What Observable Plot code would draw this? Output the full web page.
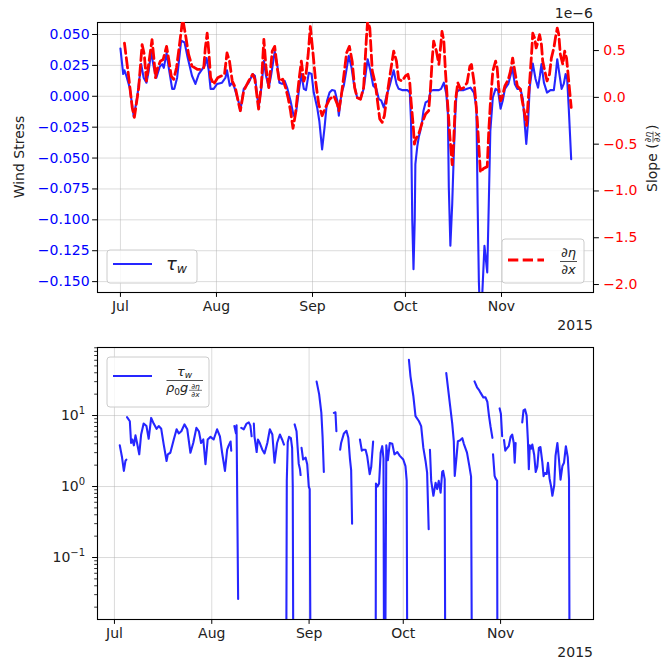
<!DOCTYPE html>
<html>
<head>
<meta charset="utf-8">
<script src="https://cdn.jsdelivr.net/npm/d3@7"></script>
<script src="https://cdn.jsdelivr.net/npm/@observablehq/plot@0.6"></script>
<style>
  body { margin: 0; background: #fff; }
  #fig { position: relative; width: 663px; height: 662px; font-family: "DejaVu Sans", sans-serif; }
  #fig svg { position: absolute; left: 0; top: 0; }
</style>
</head>
<body>
<div id="fig"></div>
<script>
// ---- axis ticks and labels ----
const monthStarts = ["2015-07-01", "2015-08-01", "2015-09-01", "2015-10-01", "2015-11-01"];
const monthLabels = ["Jul", "Aug", "Sep", "Oct", "Nov"];
const yearLabel = "2015";
const tauTicks = [-0.15, -0.125, -0.1, -0.075, -0.05, -0.025, 0, 0.025, 0.05];
const slopeTicks = [-2, -1.5, -1, -0.5, 0, 0.5];
const ratioTicks = [0.1, 1, 10];

// ---- series: [days since 1 Jul 2015, value] ----
// wind stress tau_w
const tauSamples = [
  [0.0,0.0387],[0.9,0.018],[1.3,0.021],[1.9,0.0166],[3.0,0.007],[4.3,-0.0165],[5.4,-0.001],[6.7,0.026],[7.5,0.015],[8.4,0.011],
  [9.1,0.020],[9.9,0.036],[10.8,0.023],[11.6,0.015],[12.7,0.024],[13.5,0.026],[14.0,0.023],[14.9,0.035],[15.6,0.023],[16.7,0.006],
  [17.4,0.006],[18.3,0.015],[19.6,0.045],[20.7,0.0435],[21.7,0.0314],[23.1,0.0166],[24.2,0.010],[25.3,0.018],[26.4,0.022],[27.2,0.0247],
  [27.8,0.031],[28.5,0.021],[29.1,0.006],[30.1,0.006],[31.2,0.010],[32.8,0.011],[33.9,0.015],[34.4,0.021],[35.3,0.0085],[36.1,0.011],
  [36.8,0.007],[38.2,-0.005],[38.7,-0.0117],[39.8,0.006],[41.4,0.011],[42.7,0.018],[43.4,0.0166],[44.6,-0.009],[45.5,0.007],[46.3,0.0287],
  [47.0,0.0166],[47.9,0.007],[48.7,0.018],[49.8,0.036],[50.6,0.026],[51.3,0.011],[52.2,0.010],[53.0,0.0125],[53.8,0.007],[54.9,-0.0036],
  [55.9,-0.0157],[56.7,-0.013],[57.6,0.0045],[58.4,0.018],[59.2,0.006],[59.9,0.005],[60.8,0.019],[61.7,0.018],[62.4,0.003],[63.5,-0.009],
  [64.2,-0.020],[65.1,-0.043],[65.9,-0.025],[66.7,-0.0036],[67.5,0.003],[68.3,0.005],[69.2,0.0045],[70.0,-0.0036],[70.5,-0.0157],[71.3,0.0018],
  [72.1,0.0085],[73.0,0.022],[73.7,0.0328],[74.6,0.0233],[75.3,0.011],[76.4,-0.001],[77.5,-0.0022],[78.5,0.006],[79.8,0.030],[80.7,0.0206],
  [81.6,0.0085],[82.6,0.006],[83.4,-0.0022],[84.2,-0.0036],[85.0,-0.009],[85.9,0.0004],[86.9,0.0085],[88.2,0.021],[89.1,0.010],[89.8,0.006],
  [90.9,0.005],[92.6,0.005],[93.4,0.003],[93.8,-0.020],[94.2,-0.10],[94.6,-0.140],[95.0,-0.10],[95.2,-0.055],[95.8,-0.041],[96.3,-0.033],
  [96.8,-0.028],[97.4,-0.020],[97.8,-0.012],[98.5,-0.005],[99.5,-0.0036],[100.1,0.0045],[101.1,0.005],[102.8,0.005],[103.5,0.006],[104.4,0.011],
  [105.2,0.0018],[105.7,-0.014],[106.0,-0.074],[106.5,-0.121],[107.1,-0.087],[107.6,-0.047],[108.1,-0.015],[108.5,0.003],[109.2,0.005],[110.8,0.005],
  [111.9,0.006],[113.0,0.007],[114.1,0.003],[114.9,-0.009],[115.3,-0.087],[115.7,-0.15],[116.2,-0.185],[116.8,-0.16],[117.5,-0.121],[118.4,-0.1425],
  [118.9,-0.087],[119.4,-0.028],[120.2,-0.001],[121.1,0.006],[121.9,0.0045],[122.7,-0.010],[123.4,-0.0036],[124.1,0.006],[125.2,0.010],[125.9,0.0166],
  [126.5,0.0233],[127.3,0.010],[128.1,0.006],[129.1,0.006],[129.9,-0.0022],[130.5,-0.0225],[131.0,-0.0386],[131.6,-0.020],[132.1,0.007],[133.1,0.0265],
  [134.0,0.014],[134.8,0.007],[135.4,0.0166],[135.9,0.026],[136.7,0.011],[137.7,0.003],[138.8,0.005],[139.9,0.005],[140.4,0.015],[141.0,0.030],
  [141.7,0.018],[142.4,0.006],[143.1,0.010],[143.7,0.018],[144.2,0.014],[144.7,-0.009],[145.5,-0.051]
];

// sea-surface slope d(eta)/dx, in units of 1e-6
const slopeSamples = [
  [1.3,0.58],[2.7,0.21],[3.8,-0.108],[4.5,-0.214],[5.9,0.104],[7.0,0.564],[7.7,0.458],[8.4,0.175],[9.1,0.352],[10.2,0.616],
  [10.8,0.42],[11.3,0.21],[12.0,0.316],[12.9,0.387],[13.8,0.405],[14.9,0.545],[15.6,0.405],[16.4,0.228],[17.2,0.193],[18.1,0.316],
  [18.8,0.493],[19.6,0.704],[20.1,0.84],[21.0,0.67],[22.0,0.458],[23.1,0.334],[24.8,0.30],[25.8,0.30],[26.9,0.316],[27.4,0.528],
  [28.0,0.686],[28.6,0.458],[29.1,0.21],[30.1,0.14],[31.4,0.21],[32.5,0.228],[33.6,0.246],[34.4,0.475],[35.2,0.387],[36.1,0.175],
  [37.1,0.104],[38.2,-0.072],[38.7,-0.143],[39.8,0.069],[41.4,0.175],[42.7,0.246],[43.4,0.193],[44.6,-0.125],[45.5,0.14],[46.3,0.62],
  [47.0,0.316],[47.9,0.104],[49.0,0.493],[49.8,0.545],[50.6,0.316],[51.3,0.175],[52.4,0.193],[53.3,0.104],[54.1,-0.002],[54.9,-0.143],
  [55.7,-0.33],[56.5,-0.178],[57.6,0.175],[58.4,0.387],[59.2,0.175],[59.9,0.246],[60.6,0.458],[61.3,0.757],[62.1,0.493],[63.0,0.175],
  [64.0,-0.072],[65.1,-0.196],[66.2,-0.108],[67.5,-0.019],[68.9,0.016],[70.0,-0.072],[70.5,-0.143],[71.3,0.016],[72.1,0.228],[73.0,0.475],
  [73.9,0.545],[74.8,0.387],[75.6,0.104],[76.4,-0.002],[77.5,-0.02],[78.5,0.104],[79.4,0.633],[79.8,0.82],[80.5,0.74],[81.3,0.28],
  [82.3,0.14],[83.1,-0.072],[83.7,-0.23],[84.5,-0.267],[85.2,-0.196],[86.1,0.034],[87.2,0.28],[88.2,0.493],[89.1,0.387],[89.8,0.193],
  [90.9,0.175],[92.0,0.228],[92.8,0.246],[93.4,0.157],[93.8,-0.037],[94.5,-0.30],[94.9,-0.50],[95.3,-0.45],[96.3,-0.39],[97.4,-0.27],
  [98.5,-0.178],[99.5,-0.143],[100.1,0.104],[100.6,0.387],[101.1,0.6],[102.0,0.493],[102.8,0.352],[103.3,0.528],[103.8,0.704],[104.4,0.6],
  [104.9,0.28],[105.7,-0.108],[106.3,-0.40],[107.1,-0.72],[107.6,-0.45],[108.1,-0.05],[108.9,0.157],[109.8,0.087],[110.8,0.104],[111.9,0.157],
  [112.8,0.334],[113.3,0.352],[114.1,0.175],[114.6,0.0],[115.2,-0.25],[115.7,-0.53],[116.2,-0.80],[117.2,-0.76],[118.4,-0.74],[118.9,-0.355],
  [119.4,-0.072],[120.2,0.28],[121.1,0.387],[121.6,0.316],[122.1,0.104],[122.7,-0.037],[123.2,0.0],[124.1,0.122],[125.2,0.193],[125.9,0.28],
  [126.6,0.42],[127.3,0.28],[128.1,0.122],[129.1,0.087],[129.7,-0.037],[130.5,-0.178],[131.1,-0.30],[131.6,-0.037],[132.1,0.175],[132.7,0.458],
  [133.1,0.686],[133.7,0.633],[134.2,0.528],[134.8,0.6],[135.3,0.67],[135.9,0.564],[136.3,0.387],[137.0,0.28],[137.7,0.175],[138.5,0.246],
  [139.1,0.42],[139.9,0.528],[140.4,0.633],[141.0,0.74],[141.5,0.67],[142.0,0.458],[142.8,0.352],[143.4,0.493],[144.0,0.42],[144.5,0.246],
  [145.0,0.069],[145.5,-0.108]
];

// tau_w / (rho0 g d(eta)/dx); null where the ratio is not positive
const ratioSamples = [
  [1.7,3.8],[2.4,2.6],[3.0,1.66],[3.5,2.3],[3.8,2.4],[3.9,null],
  [4.0,9.5],[4.9,8.3],[5.3,4.1],[5.7,4.6],[6.2,3.8],[6.7,5.25],[7.2,4.1],[7.9,2.84],[8.5,5.4],[9.3,7.7],[10.2,7.1],[10.9,4.7],
  [11.7,9.25],[12.5,7.7],[13.4,6.5],[14.1,7.1],[14.9,6.5],[15.7,3.9],[16.6,2.29],[17.0,2.84],[17.8,2.99],[18.9,4.6],[19.8,6.4],
  [20.5,5.6],[21.3,6.0],[22.3,7.5],[23.2,6.4],[24.2,2.99],[25.1,4.1],[26.1,6.7],[26.9,6.0],[27.6,4.1],[28.3,4.6],[29.0,2.06],
  [29.7,4.6],[30.6,5.0],[31.6,4.6],[32.7,6.4],[33.6,5.1],[34.3,2.99],[35.2,1.66],[35.9,3.3],[36.4,3.8],[37.0,4.3],[37.2,3.2],[37.5,null],
  [38.2,7.1],[38.7,5.6],[38.9,7.3],[39.4,0.026],[39.6,null],
  [40.4,6.7],[41.2,6.4],[42.1,7.7],[42.8,8.0],[43.3,7.2],[43.7,5.1],[43.9,null],
  [44.4,7.7],[44.6,5.1],[45.3,3.06],[45.7,4.6],[46.3,4.1],[47.1,3.3],[47.8,2.93],[48.7,4.1],[49.5,6.4],[50.3,5.4],[51.0,2.16],
  [51.8,4.1],[52.7,5.4],[53.4,4.6],[54.0,3.9],[54.3,null],
  [54.7,0.001],[54.9,1.2],[55.2,4.2],[55.6,5.0],[56.2,4.8],[56.6,3.5],[56.8,1.0],[57.0,0.001],[57.2,null],
  [57.4,7.5],[58.0,6.0],[58.7,2.1],[59.1,1.75],[59.3,1.45],[59.4,null],
  [59.6,3.5],[60.1,2.4],[60.9,2.55],[61.4,2.06],[61.9,1.0],[62.2,0.92],[62.5,0.001],[62.8,null],
  [64.4,30],[65.2,20],[65.9,11],[66.3,5],[66.7,1.6],[67.0,null],
  [69.9,10.9],[70.4,11.1],[70.7,6.0],[71.0,null],
  [71.9,3.3],[72.2,4.1],[73.1,5.6],[73.9,6.1],[74.5,4.85],[75.0,2.5],[75.4,1.7],[75.7,0.3],[76.0,null],
  [78.2,4.6],[78.8,3.2],[79.3,3.3],[80.0,3.3],[80.5,2.7],[81.3,1.49],[81.8,1.9],[82.4,4.3],[82.6,null],
  [83.2,0.001],[83.3,1.1],[83.8,1.0],[84.3,1.1],[84.8,3.0],[85.3,3.7],[85.7,2.5],[85.9,0.001],[86.0,null],
  [86.2,0.001],[86.6,3.8],[87.1,2.35],[87.7,4.1],[88.5,4.0],[89.2,2.84],[90.1,3.06],[90.9,2.7],[92.0,2.4],[92.7,1.94],[93.1,1.2],[93.3,0.001],[93.5,null],
  [93.8,61],[94.3,35.6],[95.2,19],[95.9,9.8],[97.0,8.3],[97.7,7.1],[98.4,3.5],[99.1,2.29],[99.6,1.57],[100.1,0.25],[100.2,null],
  [100.5,3.3],[100.9,1.2],[101.6,0.74],[102.3,1.13],[102.8,0.92],[103.3,1.2],[103.9,0.82],[104.4,1.6],[104.7,1.66],[105.2,1.27],[105.4,0.001],[105.5,null],
  [105.7,39.5],[106.1,28],[106.9,14],[107.6,7.7],[108.1,4.36],[108.4,1.41],[109.0,2.7],[109.4,4.35],[110.0,4.45],[110.8,4.8],
  [111.3,4.0],[112.3,3.0],[113.0,2.0],[113.6,1.38],[113.9,0.001],[114.1,null],
  [114.7,30.3],[115.5,25],[116.1,23],[116.6,21],[117.5,18],[118.2,18],[118.8,15.5],[119.3,10],[119.8,7],[120.4,4.85],[120.5,null],
  [120.6,2.84],[121.1,1.41],[121.4,1.3],[121.9,1.2],[122.0,0.001],[122.3,null],
  [122.7,12.6],[123.1,10.6],[123.5,5.1],[123.7,null],
  [124.1,4.5],[124.5,3.2],[124.9,3.4],[125.6,3.7],[126.2,5.0],[126.7,5.4],[127.2,4.1],[127.5,2.16],[127.8,4.1],[128.0,null],
  [129.9,8.0],[130.3,11.8],[130.8,12.2],[131.3,10],[131.7,4.5],[132.0,1.75],[132.3,3.8],[132.7,3.4],[133.1,3.9],[133.7,2.8],
  [134.2,1.6],[134.7,1.9],[135.2,3.5],[135.7,3.6],[136.3,2.2],[136.7,1.4],[137.1,1.55],[137.7,1.5],[138.1,2.16],[138.6,1.3],
  [139.1,1.0],[139.5,0.74],[140.1,1.05],[140.5,2.7],[141.1,4.1],[141.6,2.4],[142.1,1.25],[142.7,1.95],[143.2,2.16],[143.8,3.7],
  [144.4,2.6],[144.8,1.27],[145.0,0.001]
];

// ---- helpers ----
const W = 663, H = 662;
const FRAME_L = 97, FRAME_R = 593;
const TEXT = "#222";
const GRID = {stroke: "#b0b0b0", strokeOpacity: 0.45, strokeWidth: 1};
const origin = Date.UTC(2015, 6, 1);
const at = d => new Date(origin + d * 864e5);
const rows = pairs => pairs.map(([d, v]) => ({date: at(d), value: v}));
const monthDates = monthStarts.map(s => new Date(s + "T00:00:00Z"));
const monthFmt = d => monthLabels[monthDates.findIndex(m => +m === +d)];
const margins = (top, bottom) => ({marginLeft: FRAME_L, marginRight: W - FRAME_R, marginTop: top, marginBottom: H - bottom});
const style = {background: "transparent", fontFamily: "DejaVu Sans, sans-serif", fontSize: "14px", overflow: "visible"};

// ---- upper panel, wind stress (left axis) ----
const upper = Plot.plot({
  width: W, height: H, ...margins(22, 292), style,
  x: {type: "utc", domain: [at(-7.4), at(152.7)]},
  y: {domain: [-0.1588, 0.0597]},
  marks: [
    Plot.gridX(monthDates, GRID),
    Plot.gridY(tauTicks, GRID),
    Plot.line(rows(tauSamples), {x: "date", y: "value", stroke: "#0000ff", strokeOpacity: 0.85, strokeWidth: 2.1, clip: true}),
    Plot.axisX(monthDates, {tickFormat: monthFmt, tickSize: 4.9, tickPadding: 4, label: null, fill: TEXT, stroke: "#000"}),
    Plot.axisY(tauTicks, {tickFormat: d3.format(".3f"), tickSize: 4.9, tickPadding: 3, label: null, fill: "#0000ff", stroke: "#000"}),
    Plot.frame({stroke: "#000", strokeWidth: 1.1})
  ]
});

// ---- upper panel, slope (right axis, drawn on top) ----
const twin = Plot.plot({
  width: W, height: H, ...margins(22, 292), style,
  x: {type: "utc", domain: [at(-7.4), at(152.7)], axis: null},
  y: {domain: [-2.085, 0.8]},
  marks: [
    Plot.line(rows(slopeSamples), {x: "date", y: "value", stroke: "#ff0000", strokeWidth: 2.8, strokeDasharray: "10.3,4.4", clip: true}),
    Plot.axisY(slopeTicks, {anchor: "right", tickFormat: d3.format(".1f"), tickSize: 4.9, tickPadding: 4.9, label: null, fill: "#ff0000", stroke: "#000"})
  ]
});

// ---- lower panel, ratio on a log axis ----
const minorTicks = [0.01, 0.1, 1, 10].flatMap(b => d3.range(2, 10).map(k => b * k)).filter(v => v > 0.0134 && v < 90.8);
const lower = Plot.plot({
  width: W, height: H, ...margins(347, 619), style,
  x: {type: "utc", domain: [at(-5.4), at(152.6)]},
  y: {type: "log", domain: [0.0134, 90.8]},
  marks: [
    Plot.gridX(monthDates, GRID),
    Plot.gridY(ratioTicks, GRID),
    Plot.line(rows(ratioSamples), {x: "date", y: "value", stroke: "#0000ff", strokeOpacity: 0.85, strokeWidth: 2.1, clip: true}),
    Plot.axisX(monthDates, {tickFormat: monthFmt, tickSize: 4.9, tickPadding: 4, label: null, fill: TEXT, stroke: "#000"}),
    Plot.axisY(minorTicks, {tickSize: 2.8, tickFormat: () => "", label: null, stroke: "#000", strokeWidth: 0.8}),
    Plot.axisY(ratioTicks, {tickSize: 4.9, tickPadding: 7.5, tickFormat: d => "10^" + d3.format("d")(Math.round(Math.log10(d))), label: null, fill: TEXT, stroke: "#000"}),
    Plot.frame({stroke: "#000", strokeWidth: 1.1})
  ]
});
// render powers of ten with a raised exponent
lower.querySelectorAll("text").forEach(t => {
  const m = /^10\^(.+)$/.exec(t.textContent);
  if (!m) return;
  t.textContent = "10";
  const sup = document.createElementNS("http://www.w3.org/2000/svg", "tspan");
  sup.setAttribute("dy", "-6");
  sup.setAttribute("font-size", "10");
  sup.textContent = m[1];
  t.appendChild(sup);
});

// ---- annotations: axis titles, offsets, legends ----
const ann = d3.create("svg").attr("width", W).attr("height", H)
  .attr("font-family", "DejaVu Sans, sans-serif").attr("fill", TEXT).attr("font-size", 14);

function rich(g, x, y, size, anchor, pieces) {
  const t = g.append("text").attr("x", x).attr("y", y).attr("font-size", size).attr("text-anchor", anchor);
  for (const p of pieces) {
    const s = t.append("tspan").text(p.t);
    if (p.i) s.attr("font-style", "italic");
    if (p.s) s.attr("font-size", p.s);
    if (p.dy) s.attr("dy", p.dy);
  }
  return t;
}
const rule = (g, x1, x2, y, w = 0.8) => g.append("line").attr("x1", x1).attr("x2", x2).attr("y1", y).attr("y2", y).attr("stroke", TEXT).attr("stroke-width", w);

ann.append("text").attr("transform", "translate(19,157) rotate(-90)").attr("y", 5)
  .attr("text-anchor", "middle").text("Wind Stress");

const slopeTitle = ann.append("g").attr("transform", "translate(652,157) rotate(-90)");
slopeTitle.append("text").attr("x", -35).attr("y", 5).text("Slope (");
rich(slopeTitle, 20, -1.5, 9, "middle", [{t: "∂"}, {t: "η", i: 1}]);
rule(slopeTitle, 14.5, 25.5, 1, 0.7);
rich(slopeTitle, 20, 8, 9, "middle", [{t: "∂"}, {t: "x", i: 1}]);
slopeTitle.append("text").attr("x", 27).attr("y", 5).text(")");

ann.append("text").attr("x", FRAME_R).attr("y", 18).attr("text-anchor", "end").text("1e\u22126");
ann.append("text").attr("x", FRAME_R).attr("y", 330).attr("text-anchor", "end").text(yearLabel);
ann.append("text").attr("x", FRAME_R).attr("y", 657).attr("text-anchor", "end").text(yearLabel);

const box = (x, y, w, h) => ann.append("rect").attr("x", x).attr("y", y).attr("width", w).attr("height", h)
  .attr("rx", 3).attr("fill", "#fff").attr("fill-opacity", 0.8).attr("stroke", "#cccccc").attr("stroke-width", 1);

// wind stress legend
box(107, 250, 90, 33);
ann.append("line").attr("x1", 113).attr("x2", 152).attr("y1", 264).attr("y2", 264)
  .attr("stroke", "#0000ff").attr("stroke-opacity", 0.85).attr("stroke-width", 2.1);
rich(ann, 166, 270, 18, "start", [{t: "τ", i: 1}, {t: "w", i: 1, s: 12.5, dy: 3}]);

// slope legend
box(502, 239, 82, 44);
ann.append("line").attr("x1", 508).attr("x2", 544).attr("y1", 260).attr("y2", 260)
  .attr("stroke", "#ff0000").attr("stroke-width", 2.8).attr("stroke-dasharray", "10.3,4.4");
rich(ann, 568.5, 256.5, 13, "middle", [{t: "∂"}, {t: "η", i: 1}]);
rule(ann, 560, 577, 261.5);
rich(ann, 568.5, 274, 13, "middle", [{t: "∂"}, {t: "x", i: 1}]);

// ratio legend
box(107, 357, 102, 50);
ann.append("line").attr("x1", 113).attr("x2", 152).attr("y1", 376).attr("y2", 376)
  .attr("stroke", "#0000ff").attr("stroke-opacity", 0.85).attr("stroke-width", 2.1);
rich(ann, 184.5, 375.5, 13, "middle", [{t: "τ", i: 1}, {t: "w", i: 1, s: 9, dy: 2.5}]);
rule(ann, 166.5, 203, 380.5);
rich(ann, 166, 392, 13, "start", [{t: "ρ", i: 1}, {t: "0", s: 9, dy: 2.5}, {t: "g", i: 1, dy: -2.5}]);
rich(ann, 195.5, 388.5, 7.5, "middle", [{t: "∂"}, {t: "η", i: 1}]);
rule(ann, 189, 202, 390.3, 0.6);
rich(ann, 195.5, 397, 7.5, "middle", [{t: "∂"}, {t: "x", i: 1}]);

const fig = document.getElementById("fig");
for (const el of [upper, lower, twin, ann.node()]) fig.appendChild(el);
</script>
</body>
</html>
